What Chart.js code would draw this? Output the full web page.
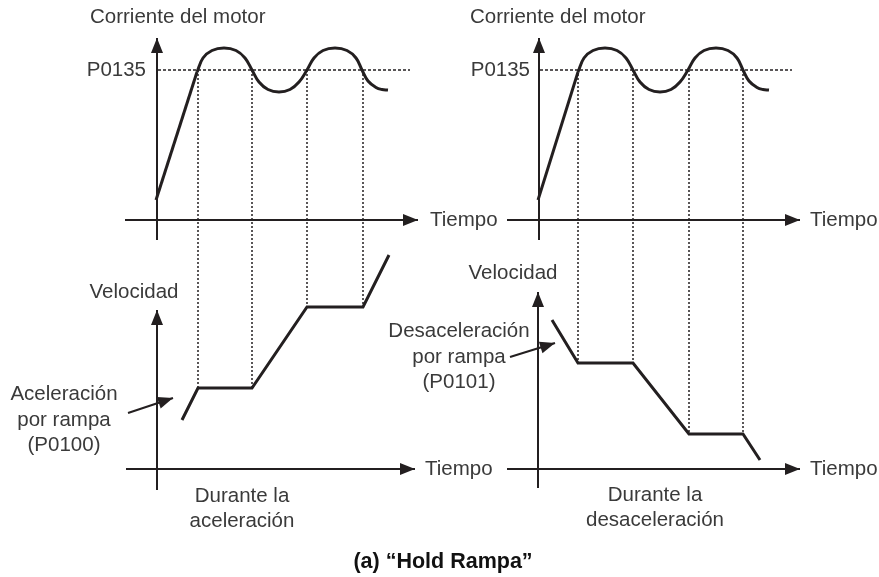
<!DOCTYPE html>
<html>
<head>
<meta charset="utf-8">
<script src="https://cdn.jsdelivr.net/npm/chart.js@4"></script>
<style>
  body { margin: 0; background: #fff; }
  #diagram { display: block; }
</style>
</head>
<body>
<canvas id="diagram" width="879" height="577"></canvas>
<script>
// values (x grows right, y grows down)

// motor current: ramp + oscillation around P0135
var leftRampX = [156, 197];
var leftRampY = [200, 72];
var leftWaveX = [197, 203, 212, 224, 236, 245, 252, 259, 268, 279, 290, 299, 307, 314, 323, 335, 347, 356, 362, 368, 376, 382, 388];
var rightRampX = [538, 578];
var rightRampY = [200, 72];
var rightWaveX = [578, 584, 593, 605, 617, 626, 633, 640, 649, 660, 671, 680, 688, 695, 704, 716, 728, 737, 743, 749, 757, 763, 769];
var waveY = [72, 58, 50.5, 48, 50.5, 58, 70, 82, 89.5, 92, 89.5, 82, 70, 58, 50.5, 48, 50.5, 58, 70, 81, 87.5, 89.5, 90];

// speed with hold steps
var accelX = [182, 198, 252, 307, 363, 389];
var accelY = [420, 388, 388, 307, 307, 255];
var decelX = [552, 578, 633, 689, 743, 760];
var decelY = [320, 363, 363, 434, 434, 460];

// P0135 level and where the current crosses it
var p0135Y = 70;
var leftCrossX = [198, 252, 307, 363];
var leftCrossBottom = [388, 388, 307, 307];
var rightCrossX = [578, 633, 689, 743];
var rightCrossBottom = [363, 363, 434, 434];

// texts
var currentTitle = 'Corriente del motor';
var levelLabel = 'P0135';
var timeLabel = 'Tiempo';
var speedLabel = 'Velocidad';
var accelNote = ['Aceleración', 'por rampa', '(P0100)'];
var decelNote = ['Desaceleración', 'por rampa', '(P0101)'];
var accelCaption = ['Durante la', 'aceleración'];
var decelCaption = ['Durante la', 'desaceleración'];
var figureTitle = '(a) “Hold Rampa”';

var ink = '#231f20';

function pts(xs, ys) {
    var out = [];
    for (var i = 0; i < xs.length; i++) {
        out.push({ x: xs[i], y: Array.isArray(ys) ? ys[i] : ys });
    }
    return out;
}

function line(data, width, extra) {
    var ds = {
        data: data,
        showLine: true,
        borderColor: ink,
        backgroundColor: ink,
        borderWidth: width,
        pointRadius: 0,
        tension: 0,
        borderCapStyle: 'butt',
        borderJoinStyle: 'miter',
        clip: false
    };
    for (var k in extra) ds[k] = extra[k];
    return ds;
}

var datasets = [];

// axes (arrow on the last point)
datasets.push(line(pts([157, 157], [240, 38]), 2, { arrow: true }));
datasets.push(line(pts([125, 418], [220, 220]), 2, { arrow: true }));
datasets.push(line(pts([539, 539], [240, 38]), 2, { arrow: true }));
datasets.push(line(pts([507, 800], [220, 220]), 2, { arrow: true }));
datasets.push(line(pts([157, 157], [490, 310]), 2, { arrow: true }));
datasets.push(line(pts([126, 415], [469, 469]), 2, { arrow: true }));
datasets.push(line(pts([538, 538], [488, 292]), 2, { arrow: true }));
datasets.push(line(pts([507, 800], [469, 469]), 2, { arrow: true }));

// P0135 level
datasets.push(line(pts([158, 410], p0135Y), 1.5, { borderDash: [3, 2] }));
datasets.push(line(pts([540, 792], p0135Y), 1.5, { borderDash: [3, 2] }));

// dotted verticals
for (var i = 0; i < leftCrossX.length; i++) {
    datasets.push(line(pts([leftCrossX[i], leftCrossX[i]], [p0135Y, leftCrossBottom[i]]), 1.5, { borderDash: [2, 2] }));
    datasets.push(line(pts([rightCrossX[i], rightCrossX[i]], [p0135Y, rightCrossBottom[i]]), 1.5, { borderDash: [2, 2] }));
}

// current curves
datasets.push(line(pts(leftRampX, leftRampY), 3));
datasets.push(line(pts(leftWaveX, waveY), 3, { tension: 0.4, borderJoinStyle: 'round' }));
datasets.push(line(pts(rightRampX, rightRampY), 3));
datasets.push(line(pts(rightWaveX, waveY), 3, { tension: 0.4, borderJoinStyle: 'round' }));

// speed curves
datasets.push(line(pts(accelX, accelY), 3));
datasets.push(line(pts(decelX, decelY), 3));

// note arrows
datasets.push(line(pts([128, 173], [413, 398]), 2, { arrow: true }));
datasets.push(line(pts([510, 555], [357, 343]), 2, { arrow: true }));

// text placements (data units)
var texts = [
    { t: currentTitle, x: 90, y: 17, align: 'left' },
    { t: currentTitle, x: 470, y: 17, align: 'left' },
    { t: levelLabel, x: 146, y: 70, align: 'right' },
    { t: levelLabel, x: 530, y: 70, align: 'right' },
    { t: timeLabel, x: 430, y: 220, align: 'left' },
    { t: timeLabel, x: 810, y: 220, align: 'left' },
    { t: timeLabel, x: 425, y: 469, align: 'left' },
    { t: timeLabel, x: 810, y: 469, align: 'left' },
    { t: speedLabel, x: 134, y: 292, align: 'center' },
    { t: speedLabel, x: 513, y: 273, align: 'center' },
    { t: accelNote[0], x: 64, y: 394, align: 'center' },
    { t: accelNote[1], x: 64, y: 420, align: 'center' },
    { t: accelNote[2], x: 64, y: 445, align: 'center' },
    { t: decelNote[0], x: 459, y: 331, align: 'center' },
    { t: decelNote[1], x: 459, y: 357, align: 'center' },
    { t: decelNote[2], x: 459, y: 382, align: 'center' },
    { t: accelCaption[0], x: 242, y: 496, align: 'center' },
    { t: accelCaption[1], x: 242, y: 521, align: 'center' },
    { t: decelCaption[0], x: 655, y: 495, align: 'center' },
    { t: decelCaption[1], x: 655, y: 520, align: 'center' },
    { t: figureTitle, x: 443, y: 562, align: 'center', bold: true }
];

var diagramPlugin = {
    id: 'diagram',
    afterDatasetsDraw: function(chart) {
        var ctx = chart.ctx;
        var sx = chart.scales.x, sy = chart.scales.y;
        ctx.save();
        ctx.fillStyle = ink;
        // arrowheads
        chart.data.datasets.forEach(function(ds) {
            if (!ds.arrow) return;
            var n = ds.data.length;
            var x1 = sx.getPixelForValue(ds.data[n - 2].x), y1 = sy.getPixelForValue(ds.data[n - 2].y);
            var x2 = sx.getPixelForValue(ds.data[n - 1].x), y2 = sy.getPixelForValue(ds.data[n - 1].y);
            var a = Math.atan2(y2 - y1, x2 - x1);
            var len = 15, half = 6;
            ctx.beginPath();
            ctx.moveTo(x2, y2);
            ctx.lineTo(x2 - len * Math.cos(a) + half * Math.sin(a), y2 - len * Math.sin(a) - half * Math.cos(a));
            ctx.lineTo(x2 - len * Math.cos(a) - half * Math.sin(a), y2 - len * Math.sin(a) + half * Math.cos(a));
            ctx.closePath();
            ctx.fill();
        });
        // labels
        ctx.textBaseline = 'middle';
        texts.forEach(function(t) {
            ctx.font = t.bold ? 'bold 21.5px "Liberation Sans", Arial, sans-serif' : '20.5px "Liberation Sans", Arial, sans-serif';
            ctx.fillStyle = t.bold ? '#111' : '#3a3a3a';
            ctx.textAlign = t.align;
            ctx.fillText(t.t, sx.getPixelForValue(t.x), sy.getPixelForValue(t.y));
        });
        ctx.restore();
    }
};

new Chart(document.getElementById('diagram'), {
    type: 'scatter',
    data: { datasets: datasets },
    options: {
        responsive: false,
        animation: false,
        events: [],
        layout: { padding: 0 },
        plugins: { legend: { display: false }, tooltip: { enabled: false } },
        scales: {
            x: { type: 'linear', min: 0, max: 879, display: false },
            y: { type: 'linear', min: 0, max: 577, reverse: true, display: false }
        }
    },
    plugins: [diagramPlugin]
});
</script>
</body>
</html>
